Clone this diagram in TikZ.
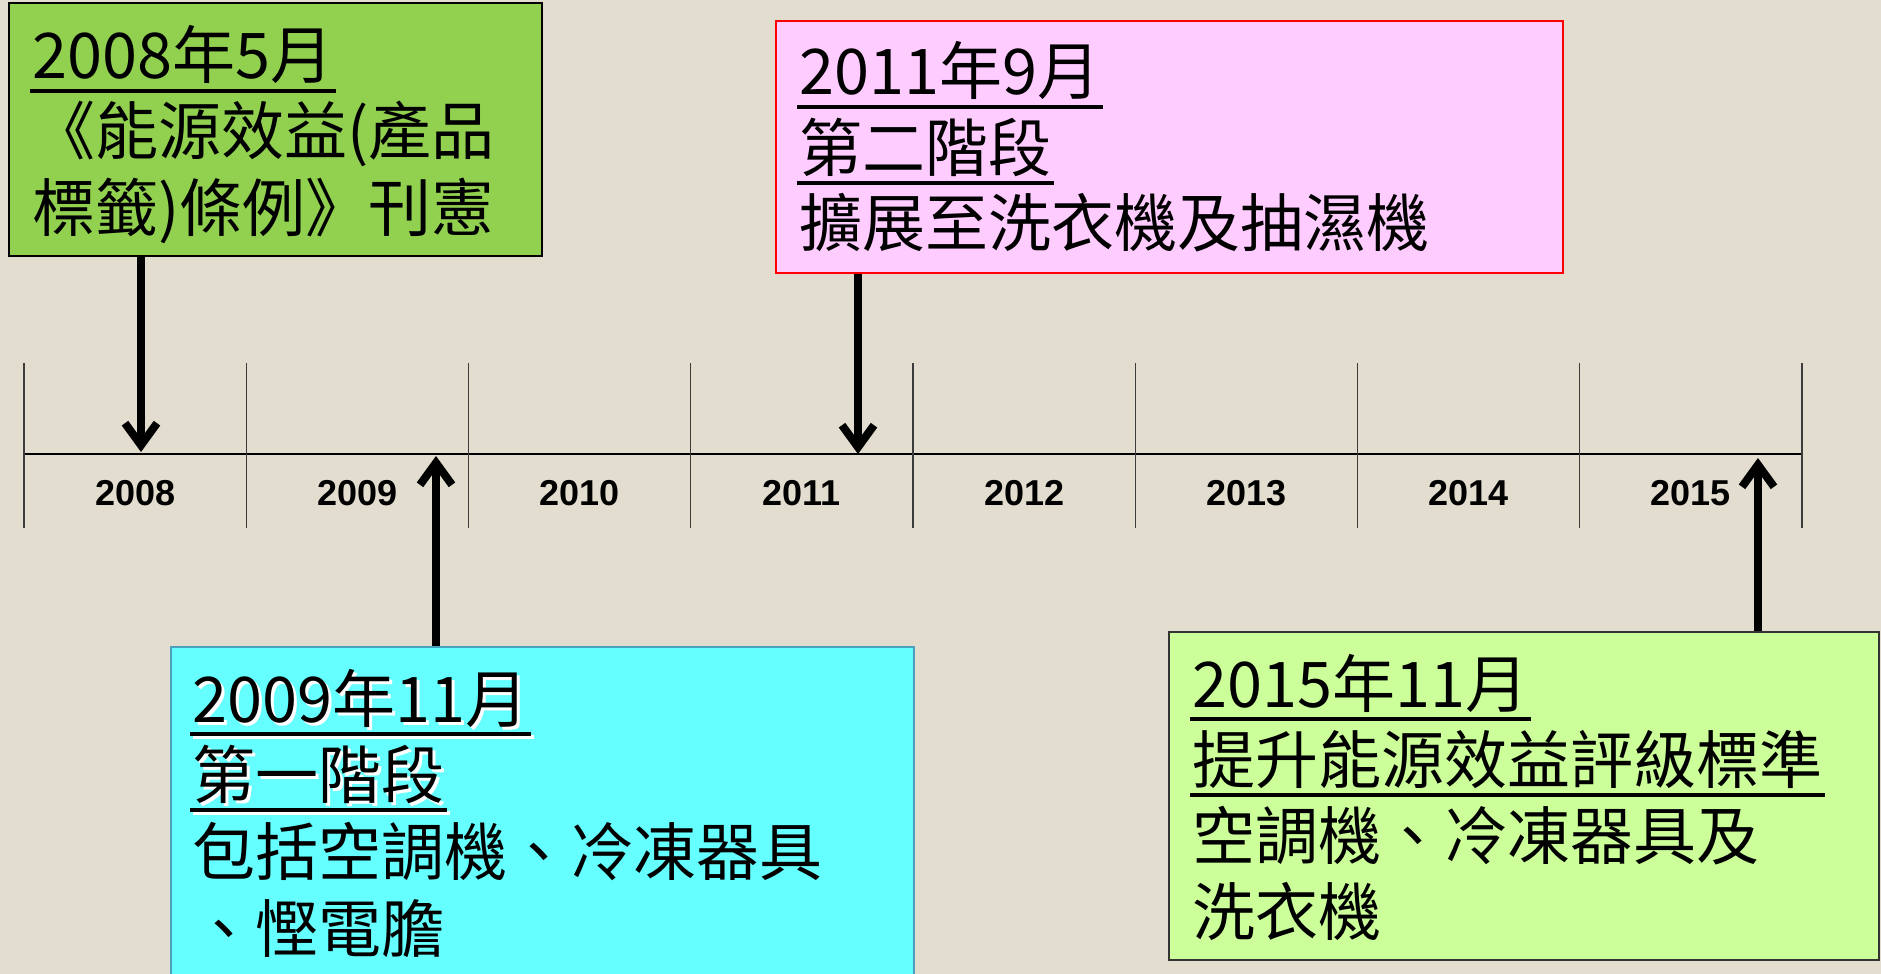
\documentclass[tikz,border=0pt]{standalone}
\usepackage{fontspec}
\newfontfamily\cjk{Noto Sans CJK TC}
\newfontfamily\yearfont{Liberation Sans}
\usetikzlibrary{arrows.meta,calc,fit}
\definecolor{bgpaper}{RGB}{227,221,207}
\definecolor{boxagreen}{RGB}{146,208,80}
\definecolor{boxbpink}{RGB}{255,204,255}
\definecolor{boxccyan}{RGB}{102,255,255}
\definecolor{boxcline}{RGB}{75,160,190}
\definecolor{boxdgreen}{RGB}{204,255,153}
\definecolor{tickgray}{RGB}{60,60,60}
\begin{document}
\begin{tikzpicture}[x=0.5pt,y=-0.5pt,
  txt/.style={font=\cjk\fontsize{31.5}{38}\selectfont, inner sep=0pt, anchor=base west},
  shtxt/.style={txt, text=white},
  yearlbl/.style={font=\yearfont\bfseries\fontsize{18}{20}\selectfont, inner sep=0pt},
  uline/.style={line width=2pt},
  shline/.style={line width=2pt, white},
  arr/.style={line width=4pt, -{Straight Barb[length=11pt,width=16pt]}},
  axisline/.style={line width=1.4pt, black},
  tickline/.style={line width=0.6pt, tickgray},
  boxbase/.style={inner sep=0pt, rectangle},
  boxA/.style={boxbase, fill=boxagreen, draw=black, line width=1.2pt},
  boxB/.style={boxbase, fill=boxbpink, draw=red, line width=1pt},
  boxC/.style={boxbase, fill=boxccyan, draw=boxcline, line width=1pt},
  boxD/.style={boxbase, fill=boxdgreen, draw=black!80, line width=1pt},
]
\useasboundingbox (0,0) rectangle (1881,974);
\fill[bgpaper] (0,0) rectangle (1881,974);
\clip (0,0) rectangle (1881,974);

% timeline
\coordinate (tl0) at (24,454);
\coordinate (tl1) at (1802,454);
\draw[axisline] (tl0) -- (tl1);
\foreach \i in {0,...,8}{
  \coordinate (tkt\i) at ({24+222.25*\i},363);
  \coordinate (tkb\i) at ({24+222.25*\i},528);
  \draw[tickline] (tkt\i) -- (tkb\i);
}
\foreach \y [count=\i from 0] in {2008,2009,2010,2011,2012,2013,2014,2015}{
  \node[yearlbl] (yr\y) at ({135.125+222.25*\i},493) {\y};
}

% box A
\node[boxA, fit={(9,3) (542,256)}] (A) {};
\node[txt] (a1) at (32,79) {2008年5月};
\draw[uline] ($(a1.base west)+(-2,12)$) -- ($(a1.base east)+(2,12)$);
\node[txt] (a2) at (32,155) {《能源效益(產品};
\node[txt] (a3) at (32,231) {標籤)條例》刊憲};

% box B
\node[boxB, fit={(776,21) (1563,273)}] (B) {};
\node[txt] (b1) at (799,95) {2011年9月};
\draw[uline] ($(b1.base west)+(-2,12)$) -- ($(b1.base east)+(2,12)$);
\node[txt] (b2) at (799,171) {第二階段};
\draw[uline] ($(b2.base west)+(-2,12)$) -- ($(b2.base east)+(2,12)$);
\node[txt] (b3) at (799,247) {擴展至洗衣機及抽濕機};

% box C
\node[boxC, fit={(171,647) (914,1000)}] (C) {};
\node[shtxt] (c1s) at (195,725) {2009年11月};
\draw[shline] ($(c1s.base west)+(-2,12)$) -- ($(c1s.base east)+(2,12)$);
\node[shtxt] (c2s) at (195,801) {第一階段};
\draw[shline] ($(c2s.base west)+(-2,12)$) -- ($(c2s.base east)+(2,12)$);
\node[txt] (c1) at (192,722) {2009年11月};
\draw[uline] ($(c1.base west)+(-2,12)$) -- ($(c1.base east)+(2,12)$);
\node[txt] (c2) at (192,798) {第一階段};
\draw[uline] ($(c2.base west)+(-2,12)$) -- ($(c2.base east)+(2,12)$);
\node[txt] (c3) at (192,875) {包括空調機、冷凍器具};
\node[txt] (c4) at (192,952) {、慳電膽};

% box D
\node[boxD, fit={(1169,632) (1879,960)}] (D) {};
\node[txt] (d1) at (1192,707) {2015年11月};
\draw[uline] ($(d1.base west)+(-2,12)$) -- ($(d1.base east)+(2,12)$);
\node[txt] (d2) at (1192,783) {提升能源效益評級標準};
\draw[uline] ($(d2.base west)+(-2,12)$) -- ($(d2.base east)+(2,12)$);
\node[txt] (d3) at (1192,859) {空調機、冷凍器具及};
\node[txt] (d4) at (1192,935) {洗衣機};

% arrows
\coordinate (pA) at (141,452);
\coordinate (pB) at (858,454);
\coordinate (pC) at (436,456);
\coordinate (pD) at (1758,458);
\draw[arr] (pA |- A.south) -- (pA);
\draw[arr] (pB |- B.south) -- (pB);
\draw[arr] (pC |- C.north) -- (pC);
\draw[arr] (pD |- D.north) -- (pD);
\end{tikzpicture}
\end{document}
